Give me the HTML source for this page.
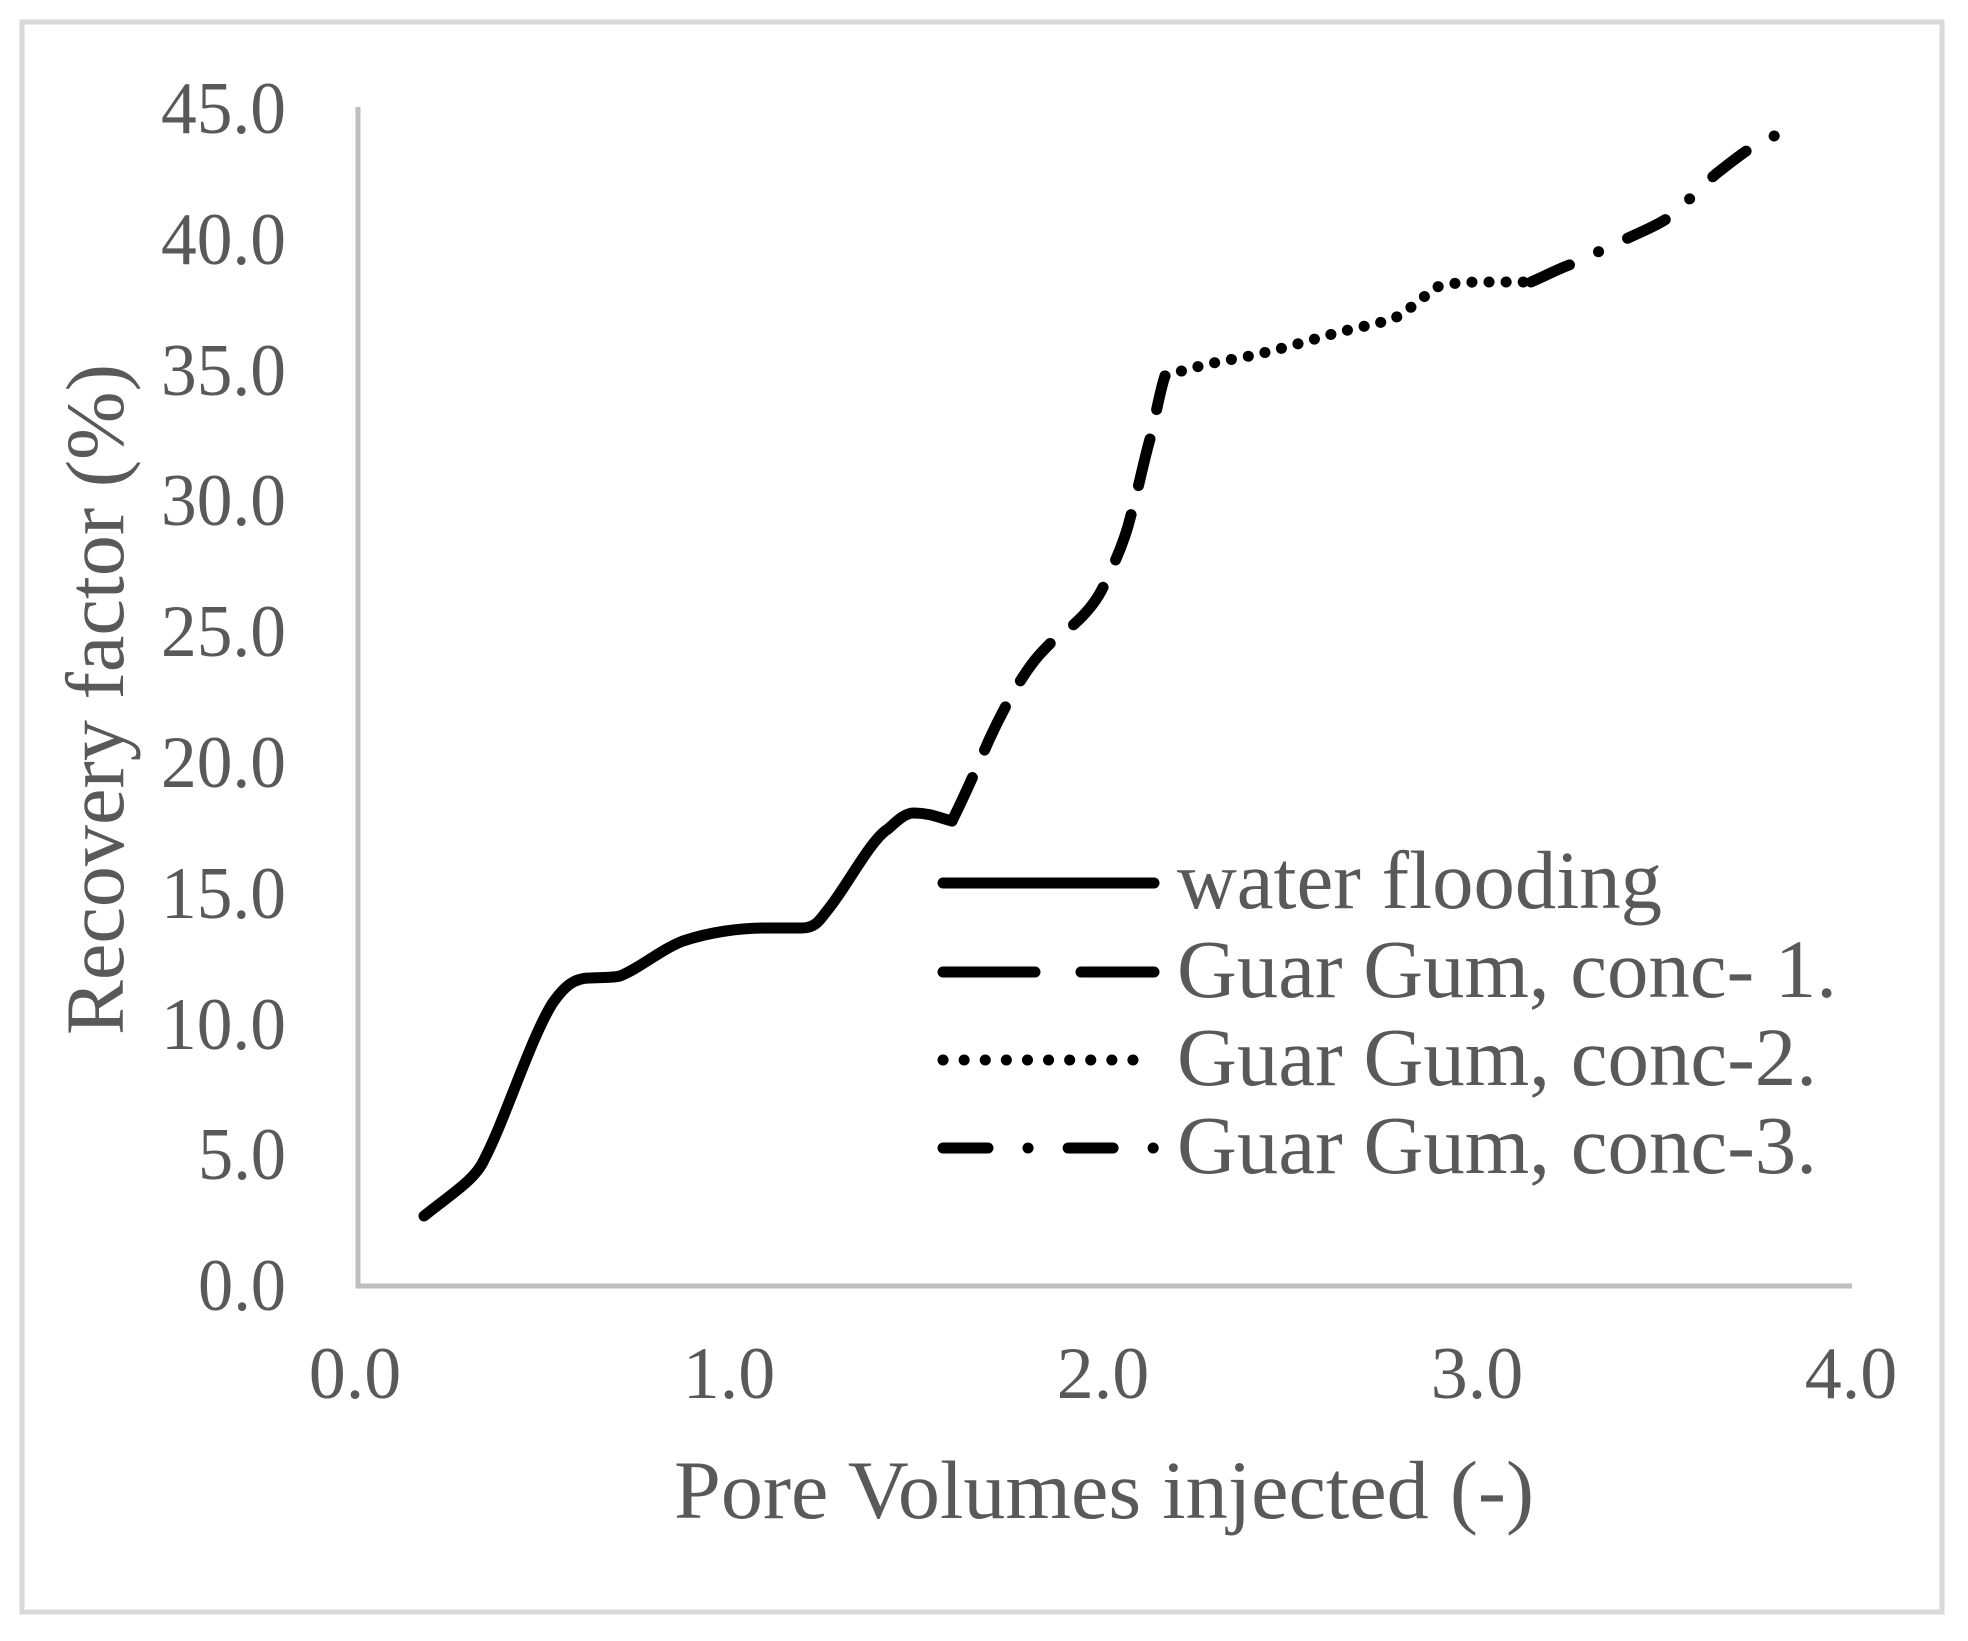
<!DOCTYPE html>
<html><head><style>html,body{margin:0;padding:0;background:#fff;}svg{display:block;}</style></head>
<body>
<svg width="1968" height="1641" viewBox="0 0 1968 1641" xmlns="http://www.w3.org/2000/svg" font-family="Liberation Serif, serif" fill="#595959">
<rect x="22" y="22" width="1920" height="1590" fill="none" stroke="#d9d9d9" stroke-width="5"/>
<polyline points="358,107 358,1286 1852,1286" fill="none" stroke="#bfbfbf" stroke-width="5"/>
<g font-size="74" text-anchor="end">
<text x="286" y="1310" textLength="88" lengthAdjust="spacingAndGlyphs">0.0</text>
<text x="286" y="1179" textLength="88" lengthAdjust="spacingAndGlyphs">5.0</text>
<text x="286" y="1049" textLength="125" lengthAdjust="spacingAndGlyphs">10.0</text>
<text x="286" y="918" textLength="125" lengthAdjust="spacingAndGlyphs">15.0</text>
<text x="286" y="787" textLength="125" lengthAdjust="spacingAndGlyphs">20.0</text>
<text x="286" y="656" textLength="125" lengthAdjust="spacingAndGlyphs">25.0</text>
<text x="286" y="525" textLength="125" lengthAdjust="spacingAndGlyphs">30.0</text>
<text x="286" y="395" textLength="125" lengthAdjust="spacingAndGlyphs">35.0</text>
<text x="286" y="264" textLength="125" lengthAdjust="spacingAndGlyphs">40.0</text>
<text x="286" y="133" textLength="125" lengthAdjust="spacingAndGlyphs">45.0</text>
</g>
<g font-size="74" text-anchor="middle">
<text x="355" y="1398">0.0</text>
<text x="729" y="1398">1.0</text>
<text x="1103" y="1398">2.0</text>
<text x="1477" y="1398">3.0</text>
<text x="1851" y="1398">4.0</text>
</g>
<text x="674" y="1518" font-size="83" textLength="860" lengthAdjust="spacingAndGlyphs">Pore Volumes injected (-)</text>
<text transform="translate(123,1035) rotate(-90)" font-size="83" textLength="671" lengthAdjust="spacingAndGlyphs">Recovery factor (%)</text>
<g fill="none" stroke="#000" stroke-width="11" stroke-linejoin="round">
<path stroke-linecap="round" d="M424,1216 C450,1195 475,1180 484,1160 C505,1120 530,1040 552,1004 C565,985 575,978 590,978 C605,977 612,978 620,976 C640,968 660,950 683,941 C710,932 740,928 765,928 L802,928 C815,928 820,920 826,912 C845,890 870,840 888,829 C900,818 906,813 914,813 C930,813 940,818 952,821"/>
<path stroke-linecap="round" stroke-dasharray="48,30" d="M952,821 C965,795 978,765 989,740 C1005,705 1025,670 1041,653 C1053,640 1062,632 1071,627 C1085,615 1098,600 1105,583 C1116,560 1125,540 1131,515 C1138,490 1144,460 1150,439 C1156,415 1160,390 1165,376"/>
<path stroke-linecap="round" stroke-dasharray="0.1,17" d="M1165,376 C1190,368 1215,362 1240,358 C1280,350 1310,340 1340,332 C1360,327 1380,323 1393,319 C1410,310 1425,295 1437,287 C1455,282 1470,282 1486,282 L1531,282"/>
<path stroke-linecap="round" stroke-dasharray="42,32,0.1,32" d="M1531,282 C1545,276 1560,268 1572,264 C1590,256 1610,246 1624,240 C1640,232 1660,225 1673,214 C1690,200 1705,182 1721,170 C1740,155 1760,140 1774,136 C1782,134 1790,136 1796,138"/>
<line x1="943" y1="883" x2="1154" y2="883" stroke-linecap="round"/>
<line x1="943" y1="972" x2="1154" y2="972" stroke-linecap="round" stroke-dasharray="92,46"/>
<line x1="943" y1="1060" x2="1154" y2="1060" stroke-linecap="round" stroke-dasharray="0.1,21"/>
<line x1="943" y1="1148" x2="1154" y2="1148" stroke-linecap="round" stroke-dasharray="45,40,0.1,40"/>
</g>
<g font-size="83">
<text x="1177" y="908" textLength="485" lengthAdjust="spacingAndGlyphs">water flooding</text>
<text x="1177" y="997" textLength="660" lengthAdjust="spacingAndGlyphs">Guar Gum, conc- 1.</text>
<text x="1177" y="1085" textLength="640" lengthAdjust="spacingAndGlyphs">Guar Gum, conc-2.</text>
<text x="1177" y="1173" textLength="640" lengthAdjust="spacingAndGlyphs">Guar Gum, conc-3.</text>
</g>
</svg>
</body></html>
